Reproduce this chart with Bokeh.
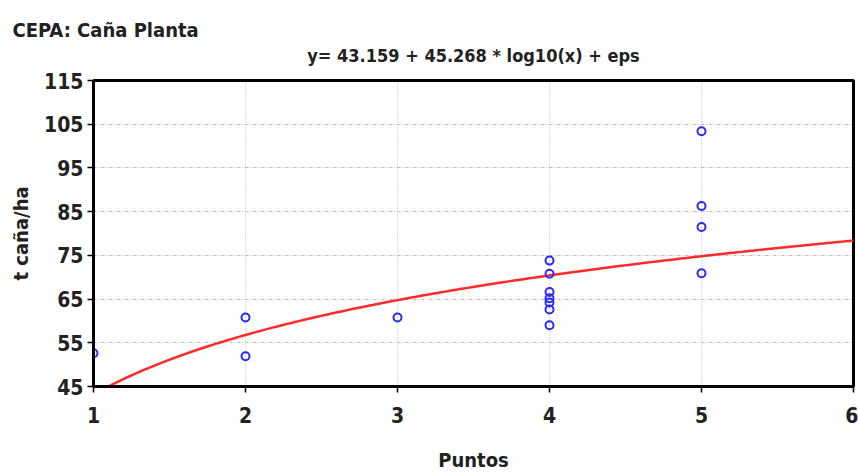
import numpy as np
from bokeh.plotting import figure
from bokeh.models import Title, Range1d, FixedTicker
from bokeh.embed import file_html
from bokeh.resources import INLINE

# data
pt_x = [1, 2, 2, 3, 4, 4, 4, 4, 4, 4, 4, 5, 5, 5, 5]
pt_y = [52.6, 60.8, 51.9, 60.8, 73.8, 70.8, 66.6, 65.2, 64.2, 62.6, 59.0, 103.4, 86.3, 81.5, 70.9]

# fitted model shown in the chart title
b0 = 43.159
b1 = 45.268
x_ticks = [1, 2, 3, 4, 5, 6]
y_ticks = [45, 55, 65, 75, 85, 95, 105, 115]

FONT = "DejaVu Sans Condensed, Liberation Sans, sans-serif"
W, H = 858, 474

p = figure(width=W, height=H, output_backend="svg", toolbar_location=None,
           x_range=Range1d(1, 6), y_range=Range1d(45, 115),
           min_border_left=93, min_border_right=5, min_border_top=80, min_border_bottom=82)

cx = np.linspace(1.093, 6, 200)
cy = b0 + b1 * np.log10(cx)
p.line(cx, cy, line_color="#ff2a2a", line_width=2.5)
p.scatter(pt_x, pt_y, marker="circle", size=8, fill_color=None, line_color="#2a2aff", line_width=2)

for ax in (p.xaxis, p.yaxis):
    ax.axis_line_width = 3
    ax.axis_line_color = "black"
    ax.major_tick_line_color = "black"
    ax.major_tick_line_width = 1.5
    ax.major_tick_out = 6
    ax.major_tick_in = 0
    ax.minor_tick_line_color = None
    ax.major_label_text_font = FONT
    ax.major_label_text_font_style = "bold"
    ax.major_label_text_font_size = "21px"
    ax.major_label_text_color = "#222222"
    ax.axis_label_text_font = FONT
    ax.axis_label_text_font_style = "bold"
    ax.axis_label_text_font_size = "20px"
    ax.axis_label_text_color = "#222222"

p.xaxis.ticker = FixedTicker(ticks=x_ticks)
p.yaxis.ticker = FixedTicker(ticks=y_ticks)
p.xaxis.axis_label = "Puntos"
p.yaxis.axis_label = "t caña/ha"
p.xaxis.major_label_standoff = 14
p.yaxis.major_label_standoff = 4
p.xaxis.axis_label_standoff = 22
p.yaxis.axis_label_standoff = 8

p.xgrid.grid_line_color = "#b8b8b8"
p.xgrid.grid_line_dash = "1 2"
p.ygrid.grid_line_color = "#b8b8b8"
p.ygrid.grid_line_dash = "3 2 1 2"

p.outline_line_color = "black"
p.outline_line_width = 3
p.outline_line_alpha = 1

# equation (closest to the frame), then the strain name above it
p.add_layout(Title(text="y= 43.159 + 45.268 * log10(x) + eps", align="center", offset=-6,
                   vertical_align="top", standoff=26,
                   text_font=FONT, text_font_style="bold", text_font_size="18px",
                   text_color="#222222"), "above")
p.add_layout(Title(text="CEPA: Caña Planta", align="left", offset=-81, standoff=-20,
                   text_font=FONT, text_font_style="bold", text_font_size="20px",
                   text_color="#222222"), "above")

open("out.html", "w").write(file_html(p, INLINE))
